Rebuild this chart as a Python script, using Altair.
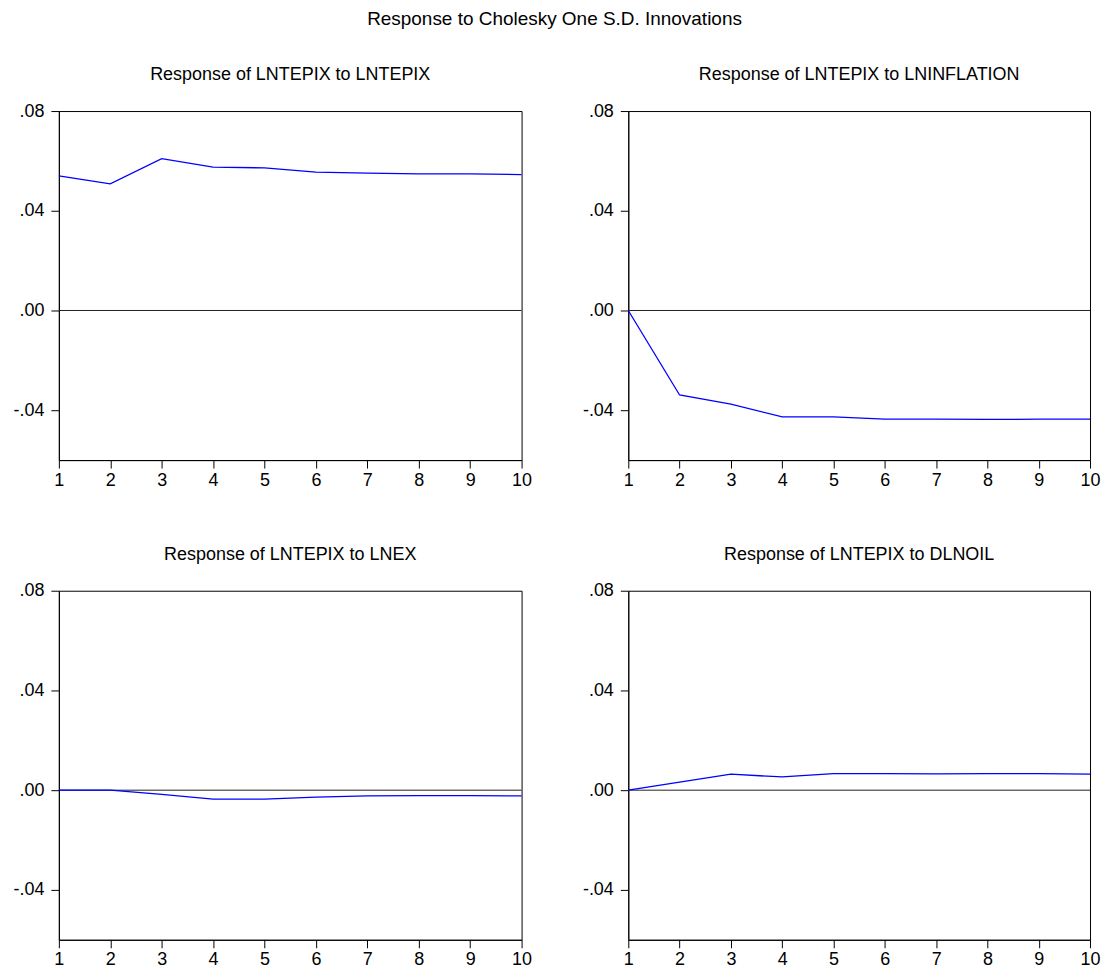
import altair as alt
import pandas as pd

periods = list(range(1, 11))
resp_tepix = [0.0540, 0.0508, 0.0609, 0.0575, 0.0572, 0.0555, 0.0551, 0.0548, 0.0548, 0.0545]
resp_inflation = [0.0, -0.0339, -0.0376, -0.0427, -0.0427, -0.0436, -0.0436, -0.0437, -0.0436, -0.0436]
resp_ex = [0.0, 0.0, -0.0017, -0.0036, -0.0036, -0.0028, -0.0023, -0.0022, -0.0022, -0.0023]
resp_oil = [0.0, 0.0032, 0.0064, 0.0053, 0.0066, 0.0066, 0.0065, 0.0066, 0.0066, 0.0064]
panel_titles = [
    "Response of LNTEPIX to LNTEPIX",
    "Response of LNTEPIX to LNINFLATION",
    "Response of LNTEPIX to LNEX",
    "Response of LNTEPIX to DLNOIL",
]
y_ticks = [-0.04, 0.0, 0.04, 0.08]
main_title = "Response to Cholesky One S.D. Innovations"

FONT = "Liberation Sans"
LABEL_EXPR = (
    "datum.value < 0 ? '-' + replace(format(abs(datum.value), '.2f'), '0.', '.')"
    " : replace(format(datum.value, '.2f'), '0.', '.')"
)


def panel(values, title, w):
    df = pd.DataFrame({"period": periods, "response": values})
    x = alt.X(
        "period:Q",
        scale=alt.Scale(domain=[1, 10], nice=False),
        axis=alt.Axis(values=periods, title=None, format="d", grid=False,
                      tickSize=8, labelPadding=3, labelFontSize=18,
                      minExtent=30, maxExtent=30, labelFlush=False),
    )
    y = alt.Y(
        "response:Q",
        scale=alt.Scale(domain=[-0.06, 0.08], nice=False, zero=False),
        axis=alt.Axis(values=y_ticks, title=None, grid=False, tickSize=8,
                      labelPadding=7, labelFontSize=18, labelExpr=LABEL_EXPR,
                      minExtent=50, maxExtent=50),
    )
    zero = alt.Chart(pd.DataFrame({"zero": [0.0]})).mark_rule(
        color="#222222", strokeWidth=1
    ).encode(y=alt.Y("zero:Q"))
    line = alt.Chart(df).mark_line(color="#0000FF", strokeWidth=1.3).encode(x=x, y=y)
    return alt.layer(zero, line).properties(
        width=w, height=350,
        title=alt.TitleParams(title, fontSize=18, font=FONT, fontWeight="normal",
                              color="black", offset=18),
    )


p1 = panel(resp_tepix, panel_titles[0], 464)
p2 = panel(resp_inflation, panel_titles[1], 463)
p3 = panel(resp_ex, panel_titles[2], 464)
p4 = panel(resp_oil, panel_titles[3], 463)

chart = alt.vconcat(
    alt.hconcat(p1, p2, spacing=45),
    alt.hconcat(p3, p4, spacing=45),
    spacing=54,
    title=alt.TitleParams(main_title, fontSize=19, font=FONT, fontWeight="normal",
                          color="black", anchor="middle", offset=37),
).properties(
    padding={"left": 0, "top": 0, "right": 0, "bottom": 0}
).configure_view(
    stroke="black", strokeWidth=1
).configure_axis(
    domainColor="black", tickColor="black", labelColor="black",
    labelFont=FONT, domainWidth=1, tickWidth=1,
)

chart.save("out.html", embed_options={"renderer": "svg", "actions": False})
